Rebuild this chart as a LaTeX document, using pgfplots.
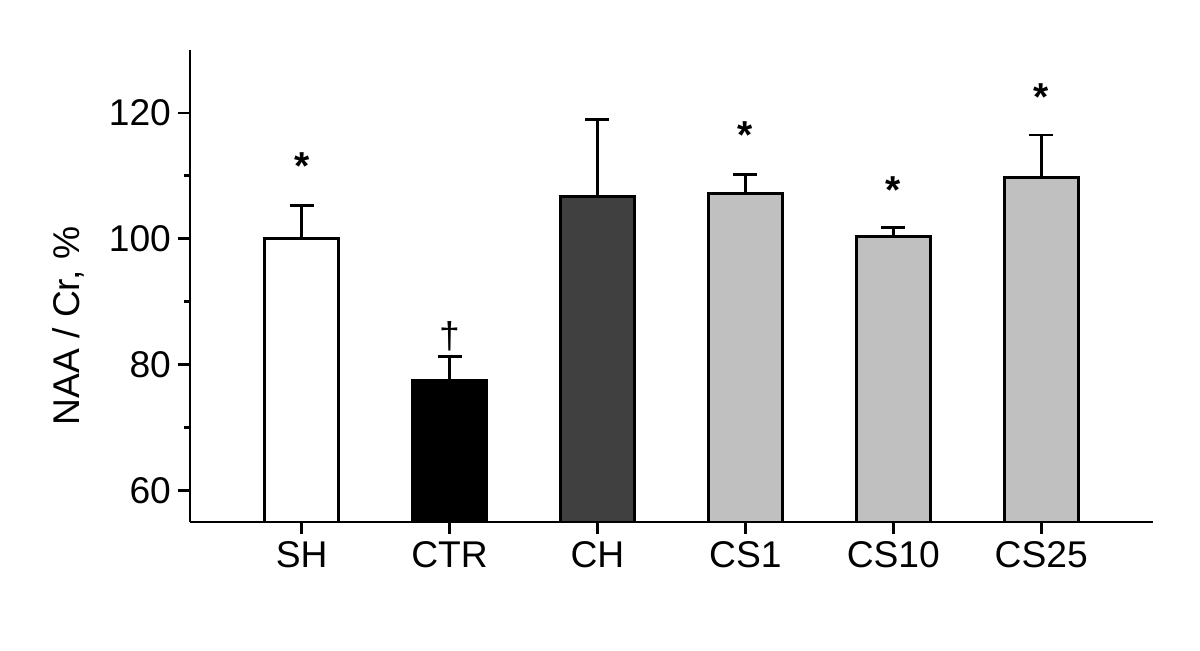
\documentclass[border=0pt]{standalone}
\usepackage{fontspec}
\setmainfont{Liberation Sans}
\usepackage{pgfplots}
\pgfplotsset{compat=1.18}
\definecolor{darkbar}{HTML}{404040}
\definecolor{lightbar}{HTML}{C0C0C0}
\begin{document}
\begin{tikzpicture}
\begin{axis}[name=ax, scale only axis, width=481.5pt, height=236pt,
  xmin=-0.755, xmax=5.756, ymin=55, ymax=130,
  axis x line*=bottom, axis y line*=left,
  axis line style={line width=1.4pt},
  tick align=outside,
  major tick length=6pt, minor tick length=3pt,
  every tick/.style={line width=1.4pt, black},
  ytick={60,80,100,120}, minor ytick={70,90,110},
  xtick={0,1,2,3,4,5}, xticklabels={SH,CTR,CH,CS1,CS10,CS25},
  ticklabel style={font=\fontsize{18.6}{22}\selectfont},
  /pgf/number format/assume math mode=true,
  ylabel={NAA / Cr, \%},
  ylabel style={font=\fontsize{18.6}{22}\selectfont, at={(axis description cs:-0.1267,0.415)}, anchor=center},
  ybar, bar width=0.5, bar shift=0pt,
  every axis plot/.append style={draw=black, line width=1.4pt},
  error bars/y dir=plus, error bars/y explicit,
  error bars/error bar style={line width=1.4pt, black},
  error bars/error mark options={rotate=90, mark size=6pt, line width=1.4pt, black},
]
\addplot[fill=white] coordinates {(0,100) +- (0,5.3)};
\addplot[fill=black] coordinates {(1,77.5) +- (0,3.8)};
\addplot[fill=darkbar] coordinates {(2,106.66) +- (0,12.25)};
\addplot[fill=lightbar] coordinates {(3,107.23) +- (0,3.0)};
\addplot[fill=lightbar] coordinates {(4,100.36) +- (0,1.45)};
\addplot[fill=lightbar] coordinates {(5,109.7) +- (0,6.8)};
\node[anchor=north, inner sep=0pt, font=\fontsize{19.5}{22}\selectfont\bfseries] at (axis cs:0,113.7) {*};
\node[anchor=north, inner sep=0pt, font=\fontsize{18.6}{22}\selectfont] at (axis cs:1,86.9) {†};
\node[anchor=north, inner sep=0pt, font=\fontsize{19.5}{22}\selectfont\bfseries] at (axis cs:3,118.65) {*};
\node[anchor=north, inner sep=0pt, font=\fontsize{19.5}{22}\selectfont\bfseries] at (axis cs:4,110.0) {*};
\node[anchor=north, inner sep=0pt, font=\fontsize{19.5}{22}\selectfont\bfseries] at (axis cs:5,124.7) {*};
\end{axis}
\path[use as bounding box] ([xshift=-95pt,yshift=-64.5pt]ax.south west) rectangle ([xshift=23.5pt,yshift=25pt]ax.north east);
\end{tikzpicture}
\end{document}
